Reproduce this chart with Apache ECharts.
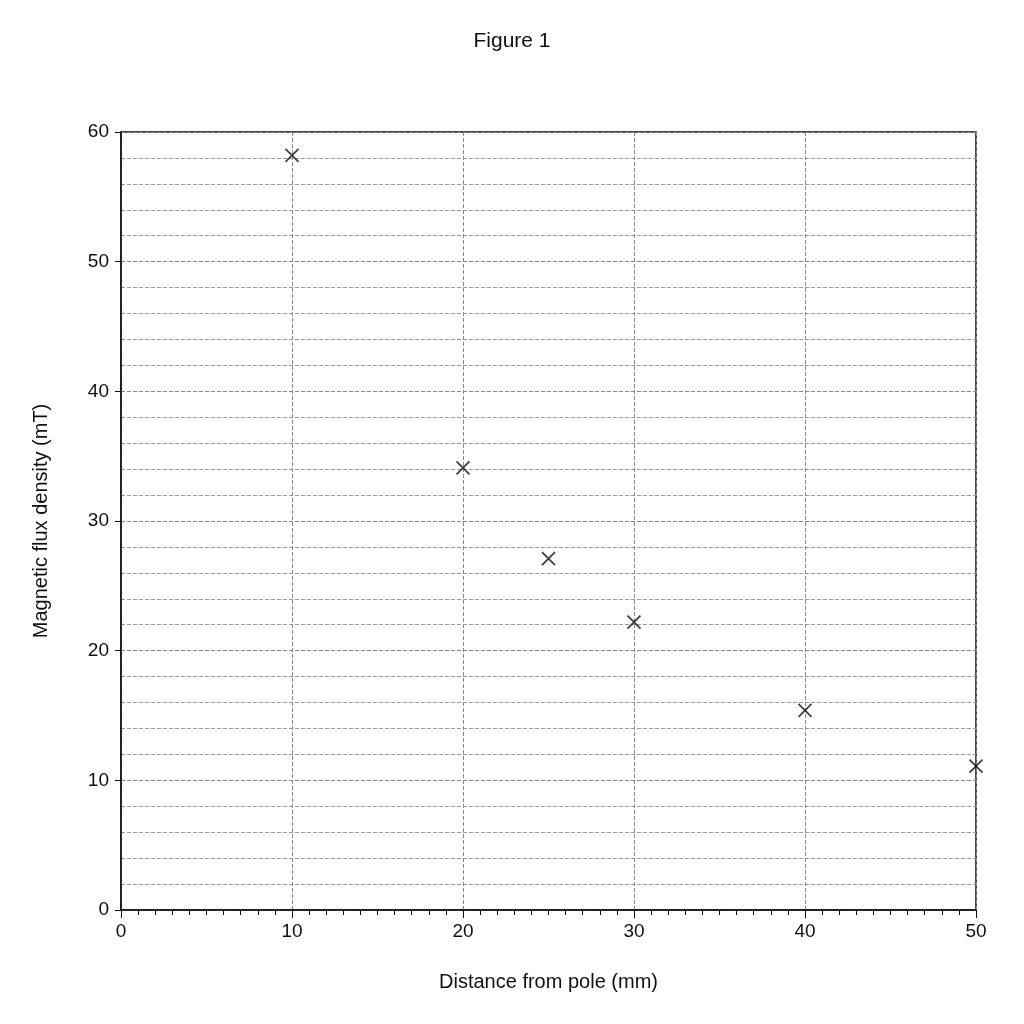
<!DOCTYPE html>
<html><head><meta charset="utf-8">
<script src="https://cdn.jsdelivr.net/npm/echarts@6/dist/echarts.min.js"></script>
<style>html,body{margin:0;padding:0;background:#fff}#c{width:1024px;height:1024px}</style>
</head><body><div id="c"></div>
<script>
const distances = [10, 20, 25, 30, 40, 50];
const fluxDensity = [58.2, 34.1, 27.1, 22.2, 15.4, 11.1];
const chart = echarts.init(document.getElementById('c'));
const ff = 'Liberation Sans, Arial, sans-serif';
chart.setOption({
  backgroundColor: '#fff',
  animation: false,
  title: {text: 'Figure 1', left: 'center', top: 26, textStyle: {fontFamily: ff, fontSize: 21, fontWeight: 'normal', color: '#111'}},
  grid: {left: 121, right: 48, top: 132, bottom: 114, show: true, borderColor: '#111', borderWidth: 1.5, backgroundColor: 'transparent'},
  xAxis: {
    type: 'value', min: 0, max: 50, interval: 10,
    name: 'Distance from pole (mm)', nameLocation: 'middle', nameGap: 62,
    nameTextStyle: {fontFamily: ff, fontSize: 20, color: '#111'},
    axisLine: {show: true, onZero: false, lineStyle: {color: '#111', width: 1.5}},
    axisTick: {show: true, length: 8, lineStyle: {color: '#111'}},
    minorTick: {show: true, splitNumber: 10, length: 5, lineStyle: {color: '#111'}},
    axisLabel: {fontFamily: ff, fontSize: 19, color: '#111', margin: 12},
    splitLine: {show: true, lineStyle: {color: '#888', type: 'dashed', width: 1}}
  },
  yAxis: {
    type: 'value', min: 0, max: 60, interval: 10,
    name: 'Magnetic flux density (mT)', nameLocation: 'middle', nameGap: 70,
    nameTextStyle: {fontFamily: ff, fontSize: 20, color: '#111'},
    axisLine: {show: true, onZero: false, lineStyle: {color: '#111', width: 1.5}},
    axisTick: {show: true, length: 6, lineStyle: {color: '#111'}},
    axisLabel: {fontFamily: ff, fontSize: 19, color: '#111', margin: 12},
    splitLine: {show: true, lineStyle: {color: '#888', type: 'dashed', width: 1}},
    minorSplitLine: {show: true, lineStyle: {color: '#999', type: 'dashed', width: 1}},
    minorTick: {show: false, splitNumber: 5}
  },
  series: [{
    type: 'scatter', clip: false,
    data: distances.map((d, i) => [d, fluxDensity[i]]),
    symbol: 'path://M0,0L10,10M10,0L0,10', symbolSize: 13,
    itemStyle: {color: 'rgba(0,0,0,0)', borderColor: '#111', borderWidth: 1.8}
  }]
});
</script></body></html>
